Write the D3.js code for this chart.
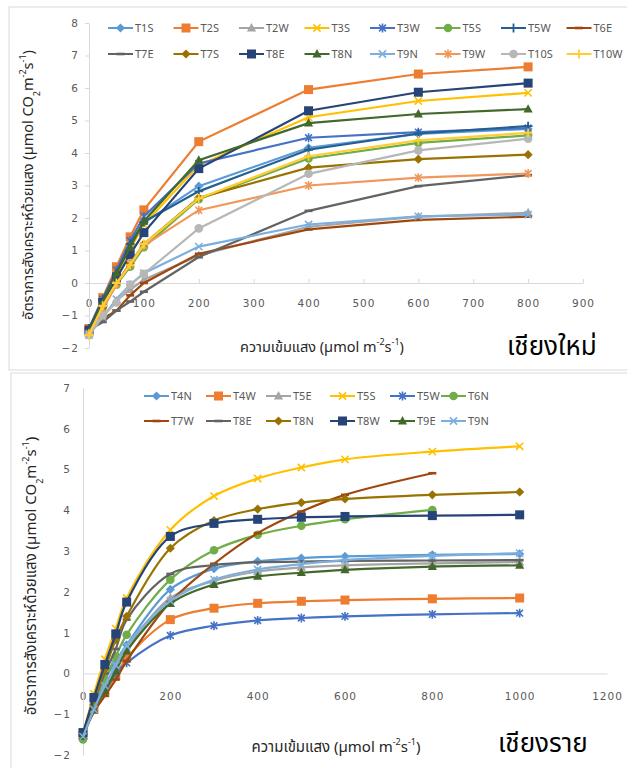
<!DOCTYPE html>
<html>
<head>
<meta charset="utf-8">
<script src="https://cdn.jsdelivr.net/npm/d3@7"></script>
<style>
  body { margin: 0; background: #fff; }
  text { font-family: "Noto Sans Thai", "Noto Sans", "DejaVu Sans", sans-serif; }
</style>
</head>
<body>
<svg id="chart"></svg>
<script>
const svgWidth = 627;
const svgHeight = 768;

// ---- Chiang Mai (top panel) ----
const cmLight = [0, 25, 50, 75, 100, 200, 400, 600, 800];
const cmXTicks = [0, 100, 200, 300, 400, 500, 600, 700, 800, 900];
const cmYTicks = [-2, -1, 0, 1, 2, 3, 4, 5, 6, 7, 8];
const cmNames = ["T1S", "T2S", "T2W", "T3S", "T3W", "T5S", "T5W", "T6E",
                 "T7E", "T7S", "T8E", "T8N", "T9N", "T9W", "T10S", "T10W"];
const cmT1S  = [-1.45, -0.55, 0.35, 1.15, 1.85, 2.98, 4.16, 4.59, 4.74];
const cmT2S  = [-1.40, -0.45, 0.50, 1.42, 2.25, 4.35, 5.95, 6.43, 6.65];
const cmT2W  = [-1.55, -1.05, -0.55, -0.20, 0.10, 0.85, 1.73, 2.04, 2.16];
const cmT3S  = [-1.50, -0.60, 0.25, 1.05, 1.80, 3.62, 5.10, 5.60, 5.85];
const cmT3W  = [-1.45, -0.50, 0.40, 1.30, 2.05, 3.68, 4.47, 4.64, 4.77];
const cmT5S  = [-1.60, -0.75, -0.05, 0.50, 1.10, 2.58, 3.83, 4.31, 4.54];
const cmT5W  = [-1.40, -0.50, 0.30, 1.20, 1.88, 2.82, 4.10, 4.60, 4.83];
const cmT6E  = [-1.50, -1.10, -0.85, -0.38, 0.00, 0.90, 1.65, 1.94, 2.04];
const cmT7E  = [-1.45, -1.20, -0.85, -0.57, -0.27, 0.80, 2.22, 2.98, 3.32];
const cmT7S  = [-1.55, -0.75, 0.00, 0.60, 1.20, 2.62, 3.55, 3.81, 3.95];
const cmT8E  = [-1.45, -0.60, 0.15, 0.88, 1.55, 3.52, 5.30, 5.87, 6.15];
const cmT8N  = [-1.50, -0.60, 0.30, 1.10, 1.90, 3.78, 4.92, 5.20, 5.35];
const cmT9N  = [-1.60, -1.05, -0.50, -0.05, 0.30, 1.12, 1.80, 2.05, 2.10];
const cmT9W  = [-1.55, -0.80, -0.05, 0.60, 1.15, 2.24, 3.00, 3.24, 3.37];
const cmT10S = [-1.60, -1.00, -0.60, -0.05, 0.28, 1.68, 3.36, 4.08, 4.44];
const cmT10W = [-1.60, -0.70, 0.00, 0.55, 1.20, 2.60, 3.90, 4.39, 4.62];
const cmValues = [cmT1S, cmT2S, cmT2W, cmT3S, cmT3W, cmT5S, cmT5W, cmT6E,
                  cmT7E, cmT7S, cmT8E, cmT8N, cmT9N, cmT9W, cmT10S, cmT10W];

// ---- Chiang Rai (bottom panel) ----
const crLight = [0, 25, 50, 75, 100, 200, 300, 400, 500, 600, 800, 1000];
const crXTicks = [0, 200, 400, 600, 800, 1000, 1200];
const crYTicks = [-2, -1, 0, 1, 2, 3, 4, 5, 6, 7];
const crNames = ["T4N", "T4W", "T5E", "T5S", "T5W", "T6N",
                 "T7W", "T8E", "T8N", "T8W", "T9E", "T9N"];
const crT4N = [-1.50, -0.85, -0.15, 0.30, 0.70, 2.06, 2.57, 2.75, 2.83, 2.87, 2.91, 2.93];
const crT4W = [-1.50, -0.85, -0.47, -0.05, 0.38, 1.32, 1.60, 1.72, 1.77, 1.80, 1.83, 1.85];
const crT5E = [-1.55, -0.90, -0.30, 0.15, 0.60, 1.85, 2.27, 2.50, 2.60, 2.65, 2.70, 2.73];
const crT5S = [-1.50, -0.50, 0.35, 1.10, 1.85, 3.52, 4.35, 4.78, 5.05, 5.25, 5.44, 5.57];
const crT5W = [-1.50, -0.85, -0.45, 0.00, 0.26, 0.93, 1.17, 1.30, 1.36, 1.40, 1.45, 1.48];
const crT6N = [-1.62, -0.75, -0.15, 0.42, 0.95, 2.30, 3.02, 3.40, 3.62, 3.78, 4.01];
const crT7W = [-1.50, -0.95, -0.55, -0.15, 0.30, 1.75, 2.69, 3.44, 3.97, 4.38, 4.91];
const crT8E = [-1.50, -0.70, 0.00, 0.60, 1.32, 2.44, 2.66, 2.73, 2.74, 2.76, 2.77, 2.78];
const crT8N = [-1.50, -0.65, 0.10, 0.83, 1.40, 3.07, 3.75, 4.03, 4.19, 4.28, 4.38, 4.45];
const crT8W = [-1.45, -0.59, 0.22, 0.97, 1.75, 3.36, 3.68, 3.78, 3.83, 3.85, 3.87, 3.89];
const crT9E = [-1.55, -0.90, -0.42, 0.06, 0.55, 1.71, 2.18, 2.38, 2.47, 2.54, 2.62, 2.65];
const crT9N = [-1.55, -0.88, -0.30, 0.20, 0.68, 1.78, 2.30, 2.55, 2.68, 2.78, 2.88, 2.95];
const crValues = [crT4N, crT4W, crT5E, crT5S, crT5W, crT6N,
                  crT7W, crT8E, crT8N, crT8W, crT9E, crT9N];

// Excel-like series styles
const cmColors = ["#5B9BD5", "#ED7D31", "#A5A5A5", "#FFC000", "#4472C4", "#70AD47", "#255E91", "#9E480E",
                  "#636363", "#997300", "#264478", "#43682B", "#7CAFDD", "#F1975A", "#B7B7B7", "#FFCD33"];
const cmMarkers = ["diamond", "square", "triangle", "x", "star", "circle", "plus", "dash",
                   "dash", "diamond", "square", "triangle", "x", "star", "circle", "plus"];
const crColors = ["#5B9BD5", "#ED7D31", "#A5A5A5", "#FFC000", "#4472C4", "#70AD47",
                  "#9E480E", "#636363", "#997300", "#264478", "#43682B", "#7CAFDD"];
const crMarkers = ["diamond", "square", "triangle", "x", "star", "circle",
                   "dash", "dash", "diamond", "square", "triangle", "x"];

const svg = d3.select("#chart")
  .attr("width", svgWidth)
  .attr("height", svgHeight);

// draw one marker shape centred on (0,0)
function marker(g, type, color) {
  if (type === "diamond") {
    g.append("path").attr("d", "M0,-4.6L4.6,0L0,4.6L-4.6,0Z").attr("fill", color);
  } else if (type === "square") {
    g.append("rect").attr("x", -4.5).attr("y", -4.5).attr("width", 9).attr("height", 9).attr("fill", color);
  } else if (type === "triangle") {
    g.append("path").attr("d", "M0,-5L4.6,3.4L-4.6,3.4Z").attr("fill", color);
  } else if (type === "circle") {
    g.append("circle").attr("r", 4.3).attr("fill", color);
  } else if (type === "x") {
    g.append("path").attr("d", "M-3.6,-3.6L3.6,3.6M-3.6,3.6L3.6,-3.6")
      .attr("stroke", color).attr("stroke-width", 1.6);
  } else if (type === "star") {
    g.append("path").attr("d", "M-3.4,-3.4L3.4,3.4M-3.4,3.4L3.4,-3.4M0,-4.4V4.4")
      .attr("stroke", color).attr("stroke-width", 1.6);
  } else if (type === "plus") {
    g.append("path").attr("d", "M-4.4,0H4.4M0,-4.4V4.4")
      .attr("stroke", color).attr("stroke-width", 1.8);
  } else if (type === "dash") {
    g.append("rect").attr("x", -4).attr("y", -1.3).attr("width", 8).attr("height", 2.6).attr("fill", color);
  }
}

function drawPanel(p) {
  const x = d3.scaleLinear().domain(p.xDomain).range(p.xRange);
  const y = d3.scaleLinear().domain(p.yDomain).range(p.yRange);

  // panel border
  svg.append("rect")
    .attr("x", p.box[0]).attr("y", p.box[1])
    .attr("width", p.box[2]).attr("height", p.box[3])
    .attr("fill", "none").attr("stroke", "#D9D9D9");

  const xAxis = d3.axisBottom(x).tickValues(p.xTicks).tickFormat(d3.format("d"))
    .tickSize(p.ticks ? -4 : 0).tickSizeOuter(0).tickPadding(p.xPad);
  const yAxis = d3.axisLeft(y).tickValues(p.yTicks).tickFormat(d3.format("d"))
    .tickSize(p.ticks ? 4 : 0).tickSizeOuter(0).tickPadding(p.yPad);

  const gx = svg.append("g")
    .attr("transform", `translate(0,${y(0)})`)
    .call(xAxis);
  const gy = svg.append("g")
    .attr("transform", `translate(${x(0)},0)`)
    .call(yAxis);

  [gx, gy].forEach(a => {
    a.select(".domain").attr("stroke", "#D9D9D9");
    a.selectAll(".tick line").attr("stroke", "#D9D9D9");
    a.selectAll(".tick text")
      .attr("fill", "#595959")
      .style("font-family", "'DejaVu Sans', sans-serif")
      .style("font-size", "10.5px")
      .style("letter-spacing", "1px");
  });

  const line = d3.line()
    .x((d, i) => x(p.light[i]))
    .y(d => y(d))
    .curve(p.smooth ? d3.curveCatmullRom : d3.curveLinear);

  p.values.forEach((vals, s) => {
    svg.append("path")
      .datum(vals)
      .attr("fill", "none")
      .attr("stroke", p.colors[s])
      .attr("stroke-width", 2.2)
      .attr("d", line);
    vals.forEach((v, i) => {
      const m = svg.append("g").attr("transform", `translate(${x(p.light[i])},${y(v)})`);
      marker(m, p.markers[s], p.colors[s]);
    });
  });

  // legend
  p.names.forEach((name, s) => {
    const col = s % p.legendCols.length;
    const row = Math.floor(s / p.legendCols.length);
    const lx = p.legendCols[col];
    const ly = p.legendRows[row];
    svg.append("line")
      .attr("x1", lx).attr("x2", lx + 25)
      .attr("y1", ly).attr("y2", ly)
      .attr("stroke", p.colors[s]).attr("stroke-width", 2);
    marker(svg.append("g").attr("transform", `translate(${lx + 12.5},${ly})`), p.markers[s], p.colors[s]);
    svg.append("text")
      .attr("x", lx + 27).attr("y", ly + 4)
      .attr("fill", "#595959")
      .style("font-size", "11px")
      .text(name);
  });

  // y axis title
  const yt = svg.append("text")
    .attr("transform", `translate(${p.yTitle[0]},${p.yTitle[1]}) rotate(-90)`)
    .attr("text-anchor", "middle")
    .attr("fill", "#262626")
    .style("font-size", p.titleSize + "px");
  yt.append("tspan").text("อัตราการสังเคราะห์ด้วยแสง (µmol CO");
  yt.append("tspan").attr("baseline-shift", "sub").style("font-size", "9px").text("2");
  yt.append("tspan").text("m");
  yt.append("tspan").attr("baseline-shift", "super").style("font-size", "9px").text("-2");
  yt.append("tspan").text("s");
  yt.append("tspan").attr("baseline-shift", "super").style("font-size", "9px").text("-1");
  yt.append("tspan").text(")");

  // x axis title
  const xt = svg.append("text")
    .attr("x", p.xTitle[0]).attr("y", p.xTitle[1])
    .attr("text-anchor", "middle")
    .attr("fill", "#262626")
    .style("font-size", p.titleSize + "px");
  xt.append("tspan").text("ความเข้มแสง (µmol m");
  xt.append("tspan").attr("baseline-shift", "super").style("font-size", "9px").text("-2");
  xt.append("tspan").text("s");
  xt.append("tspan").attr("baseline-shift", "super").style("font-size", "9px").text("-1");
  xt.append("tspan").text(")");

  // province label
  svg.append("text")
    .attr("x", p.place[0]).attr("y", p.place[1])
    .attr("fill", "#000")
    .style("font-size", "26px")
    .text(p.placeName);
}

drawPanel({
  light: cmLight, values: cmValues, names: cmNames, colors: cmColors, markers: cmMarkers,
  xDomain: [0, 900], xRange: [89, 583], yDomain: [-2, 8], yRange: [348, 23],
  xTicks: cmXTicks, yTicks: cmYTicks, ticks: true, xPad: 17, yPad: 6, smooth: false,
  box: [9, 7, 640, 363],
  legendCols: [108, 173.5, 239, 304.5, 370, 435.5, 501, 566.5], legendRows: [28, 54],
  yTitle: [33, 185], xTitle: [322, 352], titleSize: 14.5,
  place: [507, 355], placeName: "เชียงใหม่"
});

drawPanel({
  light: crLight, values: crValues, names: crNames, colors: crColors, markers: crMarkers,
  xDomain: [0, 1200], xRange: [83, 607], yDomain: [-2, 7], yRange: [755, 388],
  xTicks: crXTicks, yTicks: crYTicks, ticks: false, xPad: 19, yPad: 12, smooth: true,
  box: [11, 373, 640, 420],
  legendCols: [144, 206, 266, 330, 390, 441], legendRows: [396, 421],
  yTitle: [36, 576], xTitle: [336, 752], titleSize: 15,
  place: [498, 752], placeName: "เชียงราย"
});
</script>
</body>
</html>
